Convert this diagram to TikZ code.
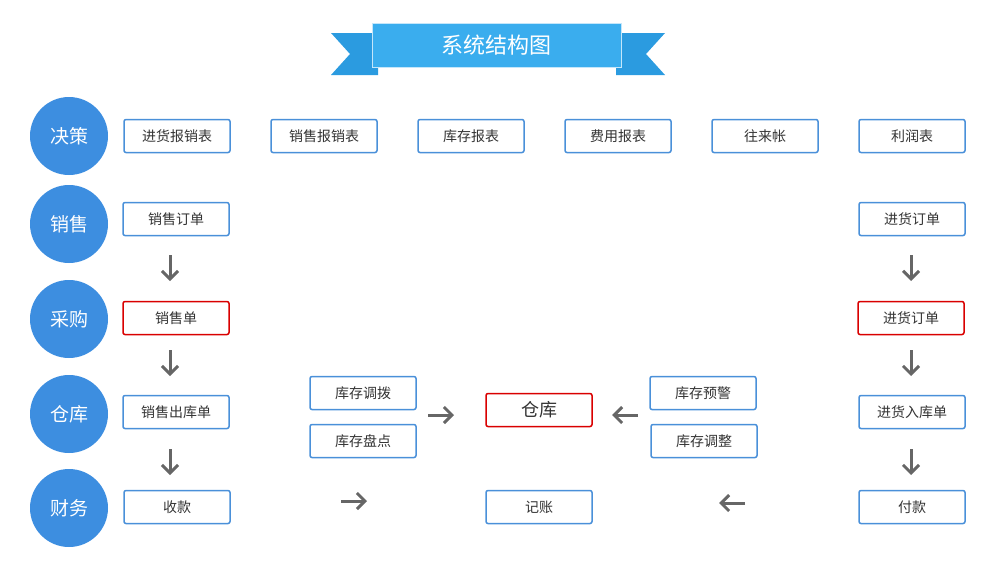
\documentclass[tikz,border=0pt]{standalone}
\usepackage{fontspec}
\setmainfont{Noto Sans CJK SC}
\usetikzlibrary{arrows.meta}
\definecolor{cblue}{HTML}{3D8EE0}
\definecolor{bblue}{HTML}{4A90D9}
\definecolor{ribbon}{HTML}{3AADEE}
\definecolor{ribbond}{HTML}{2B9BE0}
\tikzset{
 circ/.style={circle,fill=cblue,minimum size=78pt,inner sep=0,text=white,font=\fontsize{19}{19}\selectfont},
 bx/.style={draw=bblue,line width=1.5pt,rounded corners=2pt,minimum width=106pt,minimum height=33pt,inner sep=0,font=\fontsize{14}{14}\selectfont,text=black!80},
 rbx/.style={bx,draw=red!85!black},
 arr/.style={draw=black!60,line width=3pt,-{Straight Barb[length=8pt,width=16pt,line width=3pt]}}
}
\begin{document}
\begin{tikzpicture}[x=1pt,y=-1pt]
\useasboundingbox (0,0) rectangle (1000,560);
% banner
\fill[ribbond] (331,33)--(378,33)--(378,75)--(331,75)--(350,54)--cycle;
\fill[ribbond] (616,33)--(665,33)--(646,54)--(665,75)--(616,75)--cycle;
\fill[ribbon,draw=white!70!ribbon,line width=1pt] (372,23) rectangle (621,67);
\node[text=white,font=\fontsize{22}{22}\selectfont] (title) at (496,45) {系统结构图};
% circles
\node[circ] (c1) at (69,136) {决策};
\node[circ] (c2) at (69,224) {销售};
\node[circ] (c3) at (69,319) {采购};
\node[circ] (c4) at (69,414) {仓库};
\node[circ] (c5) at (69,508) {财务};
% row 1
\node[bx] (a1) at (177,136) {进货报销表};
\node[bx] (a2) at (324,136) {销售报销表};
\node[bx] (a3) at (471,136) {库存报表};
\node[bx] (a4) at (618,136) {费用报表};
\node[bx] (a5) at (765,136) {往来帐};
\node[bx] (a6) at (912,136) {利润表};
% left column
\node[bx] (l1) at (176,219) {销售订单};
\node[rbx] (l2) at (176,318) {销售单};
\node[bx] (l3) at (176,412) {销售出库单};
\node[bx] (l4) at (177,507) {收款};
% right column
\node[bx] (r1) at (912,219) {进货订单};
\node[rbx] (r2) at (911,318) {进货订单};
\node[bx] (r3) at (912,412) {进货入库单};
\node[bx] (r4) at (912,507) {付款};
% middle
\node[bx] (m1) at (363,393) {库存调拨};
\node[bx] (m2) at (363,441) {库存盘点};
\node[rbx,font=\fontsize{18}{18}\selectfont] (wh) at (539,410) {仓库};
\node[bx] (m3) at (703,393) {库存预警};
\node[bx] (m4) at (704,441) {库存调整};
\node[bx] (jz) at (539,507) {记账};
% arrows
\coordinate (d1s) at (170,255); \coordinate (d1e) at (170,281);
\coordinate (d2s) at (170,350); \coordinate (d2e) at (170,376);
\coordinate (d3s) at (170,449); \coordinate (d3e) at (170,475);
\coordinate (e1s) at (911,255); \coordinate (e1e) at (911,281);
\coordinate (e2s) at (911,350); \coordinate (e2e) at (911,376);
\coordinate (e3s) at (911,449); \coordinate (e3e) at (911,475);
\coordinate (h1s) at (428,415); \coordinate (h1e) at (454,415);
\coordinate (h2s) at (638,415); \coordinate (h2e) at (612,415);
\coordinate (h3s) at (341,501); \coordinate (h3e) at (367,501);
\coordinate (h4s) at (745,503); \coordinate (h4e) at (719,503);
\foreach \p in {d1,d2,d3,e1,e2,e3,h1,h2,h3,h4}{\draw[arr] (\p s)--(\p e);}
\end{tikzpicture}
\end{document}
